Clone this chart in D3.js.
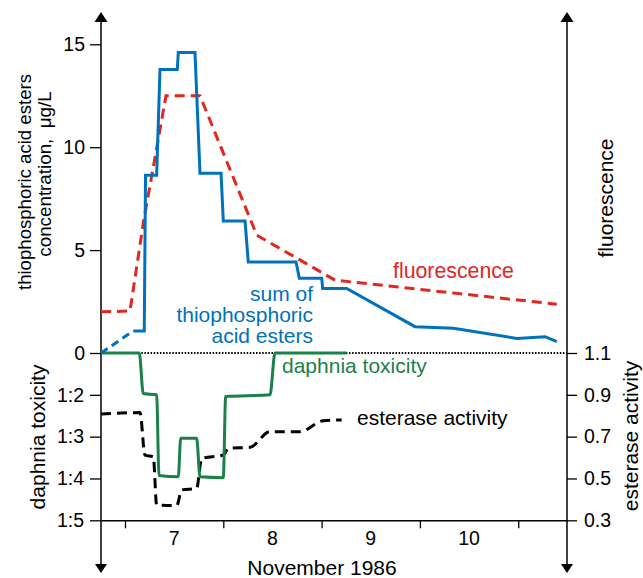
<!DOCTYPE html>
<html>
<head>
<meta charset="utf-8">
<script src="https://cdn.jsdelivr.net/npm/d3@7"></script>
<style>
    body{ margin:0; background:#fff; }
    svg{ display:block; font-family:'Liberation Sans', Arial, sans-serif; }
</style>
</head>
<body>
<script>

// x values are days of November 1986 (7.5 = noon of Nov 7)
let dayTicks = [7, 8, 9, 10, 11];
let dayLabels = [7, 8, 9, 10];
let concTicks = [0, 5, 10, 15];
let toxLabels = ['0', '1:2', '1:3', '1:4', '1:5'];
let esterTicks = [1.1, 0.9, 0.7, 0.5, 0.3];

// sum of thiophosphoric acid esters, µg/L
let esterSumStart = [[6.756, 0], [7.084, 1.07]];
let esterSum = [
    [7.084, 1.07], [7.196, 1.07], [7.209, 8.64], [7.322, 8.64], [7.356, 13.77],
    [7.532, 13.77], [7.542, 14.6], [7.712, 14.6], [7.763, 8.74], [7.977, 8.74],
    [8.000, 6.42], [8.221, 6.42], [8.254, 4.42], [8.740, 4.42], [8.773, 3.63],
    [9.001, 3.63], [9.011, 3.14], [9.255, 3.14], [9.950, 1.28], [10.340, 1.2],
    [10.985, 0.71], [11.273, 0.79], [11.392, 0.55]
];
// fluorescence, drawn on the same scale
let fluorescence = [
    [6.756, 2.0], [7.051, 2.04], [7.186, 6.3], [7.417, 12.5], [7.763, 12.5],
    [8.340, 5.73], [9.136, 3.54], [11.392, 2.37]
];
// daphnia toxicity, index into toxLabels
let toxicity = [
    [6.756, 0], [7.145, 0], [7.186, 0.97], [7.322, 1.0], [7.346, 2.93],
    [7.542, 2.96], [7.567, 2.04], [7.729, 2.04], [7.763, 2.96], [8.000, 2.98],
    [8.024, 1.04], [8.475, 1.0], [8.526, 0], [9.255, 0]
];
// esterase activity
let esterase = [
    [6.756, 0.808], [7.153, 0.815], [7.203, 0.612], [7.288, 0.604], [7.322, 0.373],
    [7.526, 0.370], [7.577, 0.445], [7.729, 0.453], [7.780, 0.596], [8.000, 0.612],
    [8.051, 0.644], [8.272, 0.649], [8.475, 0.724], [8.780, 0.724], [9.017, 0.776],
    [9.204, 0.780]
];

let width = 643, height = 578;
let margins = {left: 101, right: 567, top: 12, bottom: 573, zero: 353, base: 520.3};

let colors = {blue: '#0071bc', red: '#e3261f', green: '#1c8049', black: '#000'};

let svg = d3.select('body').append('svg')
    .attr('width', width)
    .attr('height', height);

let xScale = d3.scaleLinear().domain([6.756, 11.496]).range([margins.left, margins.right]),
    yConc = d3.scaleLinear().domain([0, 15]).range([margins.zero, 44.3]),
    yTox = d3.scaleLinear().domain([0, 4]).range([margins.zero, margins.base]),
    yEst = d3.scaleLinear().domain([1.1, 0.3]).range([margins.zero, margins.base]);

function styleAxis(g, size){
    g.attr('font-family', null).attr('font-size', size);
    g.selectAll('.tick line').attr('stroke', '#000').attr('stroke-width', 1.3);
    g.selectAll('.tick text').attr('fill', '#000');
}

// axes
svg.append('g')
    .attr('transform', `translate(${margins.left},0)`)
    .call(d3.axisLeft(yConc).tickValues(concTicks).tickSize(11).tickPadding(5))
    .call(g => g.select('.domain').remove())
    .call(g => styleAxis(g, 19.5));

svg.append('g')
    .attr('transform', `translate(${margins.left},0)`)
    .call(d3.axisLeft(yTox).tickValues([1, 2, 3, 4]).tickSize(11).tickPadding(6)
        .tickFormat(i => toxLabels[i]))
    .call(g => g.select('.domain').remove())
    .call(g => styleAxis(g, 19.5));

svg.append('g')
    .attr('transform', `translate(${margins.right},0)`)
    .call(d3.axisRight(yEst).tickValues(esterTicks).tickSize(10).tickPadding(7)
        .tickFormat(d3.format('.1f')))
    .call(g => g.select('.domain').remove())
    .call(g => styleAxis(g, 19.5));

svg.append('g')
    .attr('transform', `translate(0,${margins.base})`)
    .call(d3.axisBottom(xScale).tickValues(dayTicks).tickSize(8).tickSizeOuter(0).tickFormat(''))
    .call(g => g.select('.domain').attr('stroke', '#000').attr('stroke-width', 1.5))
    .call(g => styleAxis(g, 19.5));

svg.append('g').selectAll('text')
    .data(dayLabels)
    .join('text')
    .attr('x', d => xScale(d + 0.5))
    .attr('y', 545)
    .attr('text-anchor', 'middle')
    .attr('font-size', 19.5)
    .text(d => d);

// vertical axis lines with arrows at both ends
[margins.left, margins.right].forEach(ax => {
    svg.append('line')
        .attr('x1', ax).attr('x2', ax)
        .attr('y1', margins.top + 6).attr('y2', margins.bottom - 6)
        .attr('stroke', '#000').attr('stroke-width', 1.5);
    svg.append('path')
        .attr('d', `M${ax},${margins.top}l-6.5,10h13z`)
        .attr('fill', '#000');
    svg.append('path')
        .attr('d', `M${ax},${margins.bottom}l-6,-9h12z`)
        .attr('fill', '#000');
});

// dotted zero line
svg.append('line')
    .attr('x1', margins.left).attr('x2', margins.right)
    .attr('y1', margins.zero).attr('y2', margins.zero)
    .attr('stroke', '#000').attr('stroke-width', 2)
    .attr('stroke-dasharray', '1.5,1.6');

// series
let lineConc = d3.line().x(d => xScale(d[0])).y(d => yConc(d[1]));
let lineTox = d3.line().x(d => xScale(d[0])).y(d => yTox(d[1])).curve(d3.curveMonotoneX);
let lineEst = d3.line().x(d => xScale(d[0])).y(d => yEst(d[1])).curve(d3.curveMonotoneX);

svg.append('path')
    .attr('d', lineEst(esterase))
    .attr('fill', 'none').attr('stroke', colors.black).attr('stroke-width', 3)
    .attr('stroke-dasharray', '10,6');

svg.append('path')
    .attr('d', lineTox(toxicity))
    .attr('fill', 'none').attr('stroke', colors.green).attr('stroke-width', 3)
    .attr('stroke-linejoin', 'round');

svg.append('path')
    .attr('d', lineConc(fluorescence))
    .attr('fill', 'none').attr('stroke', colors.red).attr('stroke-width', 3)
    .attr('stroke-dasharray', '10,6');

svg.append('path')
    .attr('d', lineConc(esterSumStart))
    .attr('fill', 'none').attr('stroke', colors.blue).attr('stroke-width', 3)
    .attr('stroke-dasharray', '8,5');

svg.append('path')
    .attr('d', lineConc(esterSum))
    .attr('fill', 'none').attr('stroke', colors.blue).attr('stroke-width', 3)
    .attr('stroke-linejoin', 'miter');

// series labels
svg.append('text')
    .attr('x', 313).attr('text-anchor', 'end')
    .attr('font-size', 21).attr('fill', colors.blue)
    .selectAll('tspan')
    .data(['sum of', 'thiophosphoric', 'acid esters'])
    .join('tspan')
    .attr('x', 313)
    .attr('y', (d, i) => 301 + i * 21)
    .text(d => d);

svg.append('text')
    .attr('x', 393).attr('y', 278)
    .attr('font-size', 21.3).attr('fill', colors.red)
    .text('fluorescence');

svg.append('text')
    .attr('x', 282).attr('y', 373)
    .attr('font-size', 21).attr('fill', colors.green)
    .text('daphnia toxicity');

svg.append('text')
    .attr('x', 357).attr('y', 425)
    .attr('font-size', 21).attr('fill', colors.black)
    .text('esterase activity');

// axis titles
function vTitle(x, y, size, txt){
    svg.append('text')
        .attr('transform', `translate(${x},${y}) rotate(-90)`)
        .attr('text-anchor', 'middle')
        .attr('font-size', size)
        .style('white-space', 'pre')
        .text(txt);
}
vTitle(31, 182, 18.6, 'thiophosphoric acid esters');
vTitle(51, 174, 18.8, 'concentration,  \u03bcg/L');
vTitle(45, 437, 21, 'daphnia toxicity');
vTitle(613, 198, 21, 'fluorescence');
vTitle(638, 436, 21, 'esterase activity');

svg.append('text')
    .attr('x', 322).attr('y', 575)
    .attr('text-anchor', 'middle')
    .attr('font-size', 21)
    .text('November 1986');

</script>
</body>
</html>
